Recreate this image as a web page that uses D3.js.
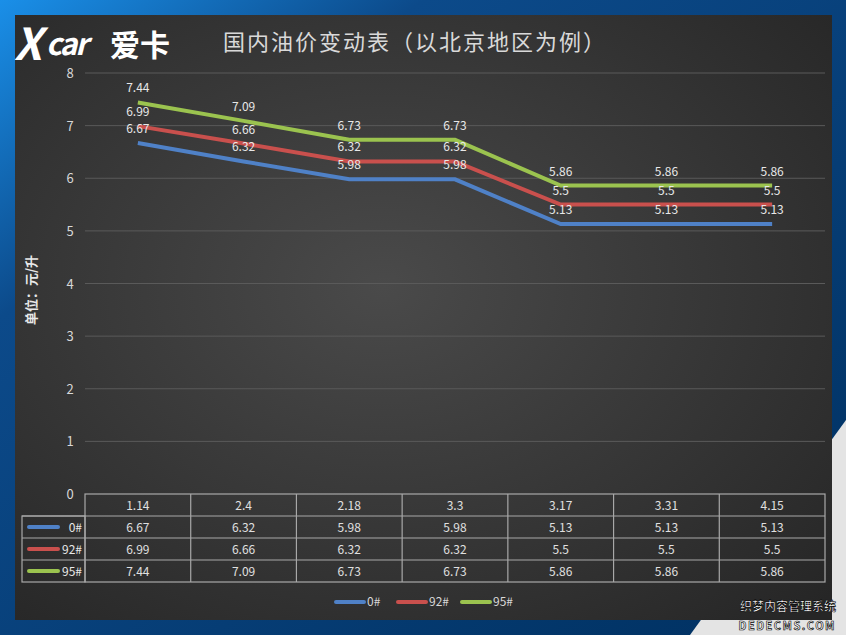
<!DOCTYPE html>
<html><head><meta charset="utf-8">
<script src="https://cdn.jsdelivr.net/npm/d3@7"></script>
<style>body{margin:0;background:#003a70}text{font-family:"Noto Sans CJK SC","Open Sans",sans-serif}</style>
</head><body><svg id="c" width="846" height="635"></svg>
<script>
var dates = ["1.14","2.4","2.18","3.3","3.17","3.31","4.15"];
var names = ["0#","92#","95#"];
var colors = ["#4f81c7","#c9504d","#9bc34f"];
var diesel = [6.67,6.32,5.98,5.98,5.13,5.13,5.13];
var p92 = [6.99,6.66,6.32,6.32,5.5,5.5,5.5];
var p95 = [7.44,7.09,6.73,6.73,5.86,5.86,5.86];
var yTicks = [0,1,2,3,4,5,6,7,8];

var series = [diesel,p92,p95];
var svg = d3.select("#c");
var defs = svg.append("defs");
var bg = defs.append("linearGradient").attr("id","bg").attr("x1",0).attr("y1",0).attr("x2",1).attr("y2",1);
bg.append("stop").attr("offset","0").attr("stop-color","#1a8fe8");
bg.append("stop").attr("offset","0.25").attr("stop-color","#0c4a8a");
bg.append("stop").attr("offset","1").attr("stop-color","#003060");
var pg = defs.append("radialGradient").attr("id","pg").attr("cx","45%").attr("cy","45%").attr("r","75%");
pg.append("stop").attr("offset","0").attr("stop-color","#4a4a4a");
pg.append("stop").attr("offset","1").attr("stop-color","#262626");

svg.append("rect").attr("width",846).attr("height",635).attr("fill","url(#bg)");
svg.append("path").attr("d","M846,420 L846,635 L690,635 Z").attr("fill","#e4e4e4");
svg.append("rect").attr("x",15).attr("y",15).attr("width",817).attr("height",605).attr("fill","url(#pg)");

var x0 = 85;
var x = d3.scaleBand().domain(dates).range([x0,825]);
var y = d3.scaleLinear().domain([0,8]).range([494,73]);

svg.append("g").selectAll("line").data(yTicks.slice(1)).join("line")
  .attr("x1",x0).attr("x2",825).attr("y1",d=>y(d)).attr("y2",d=>y(d))
  .attr("stroke","#5a5a5a").attr("stroke-width",1);
svg.append("g").selectAll("text").data(yTicks).join("text")
  .attr("x",70).attr("y",d=>y(d)+5).attr("text-anchor","middle")
  .attr("fill","#d8d8d8").attr("font-size",13).text(d=>d);

svg.append("text").attr("transform","translate(36,290) rotate(-90)").attr("text-anchor","middle")
  .attr("fill","#e8e8e8").attr("font-size",13).attr("font-weight","bold").text("单位：元/升");

svg.append("text").attr("x",415).attr("y",50).attr("text-anchor","middle")
  .attr("fill","#d9d9d9").attr("font-size",22).attr("letter-spacing",2).text("国内油价变动表（以北京地区为例）");

// logo
svg.append("text").attr("x",14).attr("y",60).attr("fill","#fff").attr("font-size",44)
  .attr("font-weight","bold").attr("font-style","italic").attr("font-family","DejaVu Sans").text("X");
svg.append("text").attr("x",46).attr("y",55).attr("fill","#fff").attr("font-size",30)
  .attr("font-weight","bold").attr("font-style","italic").attr("letter-spacing",-2).attr("font-family","DejaVu Sans").text("car");
svg.append("text").attr("x",110).attr("y",56).attr("fill","#fff").attr("font-size",30)
  .attr("font-weight","bold").text("爱卡");

var line = d3.line().x((d,i)=>x(dates[i])+x.bandwidth()/2).y(d=>y(d));
series.forEach(function(s,k){
  svg.append("path").attr("d",line(s)).attr("fill","none")
    .attr("stroke",colors[k]).attr("stroke-width",4);
});
series.forEach(function(s,k){
  svg.append("g").selectAll("text").data(s).join("text")
    .attr("x",(d,i)=>x(dates[i])+x.bandwidth()/2).attr("y",d=>y(d)-10)
    .attr("text-anchor","middle").attr("fill","#e8e8e8").attr("font-size",12).text(d=>d);
});

// table
var rowH = 22, tTop = 494;
var tg = svg.append("g").attr("stroke","#a8a8a8").attr("stroke-width",1.2).attr("fill","none");
tg.append("rect").attr("x",x0).attr("y",tTop).attr("width",825-x0).attr("height",rowH*4);
tg.append("rect").attr("x",22).attr("y",tTop+rowH).attr("width",x0-22).attr("height",rowH*3);
for (var r=1;r<4;r++) tg.append("line").attr("x1",22).attr("x2",825).attr("y1",tTop+rowH*r).attr("y2",tTop+rowH*r);
dates.forEach(function(d,i){ if(i>0) tg.append("line").attr("x1",x(d)).attr("x2",x(d)).attr("y1",tTop).attr("y2",tTop+rowH*4); });
svg.append("g").selectAll("text").data(dates).join("text")
  .attr("x",d=>x(d)+x.bandwidth()/2).attr("y",tTop+16).attr("text-anchor","middle")
  .attr("fill","#e0e0e0").attr("font-size",12).text(d=>d);
series.forEach(function(s,k){
  var ry = tTop+rowH*(k+1);
  svg.append("g").selectAll("text").data(s).join("text")
    .attr("x",(d,i)=>x(dates[i])+x.bandwidth()/2).attr("y",ry+16).attr("text-anchor","middle")
    .attr("fill","#e0e0e0").attr("font-size",12).text(d=>d);
  svg.append("line").attr("x1",29).attr("x2",58).attr("y1",ry+11).attr("y2",ry+11)
    .attr("stroke",colors[k]).attr("stroke-width",4).attr("stroke-linecap","round");
  svg.append("text").attr("x",82).attr("y",ry+16).attr("text-anchor","end")
    .attr("fill","#e8e8e8").attr("font-size",12).text(names[k]);
});

// legend
var lx = [336,398,462];
names.forEach(function(n,k){
  svg.append("line").attr("x1",lx[k]).attr("x2",lx[k]+28).attr("y1",602).attr("y2",602)
    .attr("stroke",colors[k]).attr("stroke-width",4).attr("stroke-linecap","round");
  svg.append("text").attr("x",lx[k]+31).attr("y",606).attr("fill","#d8d8d8").attr("font-size",12).text(n);
});

// watermark
svg.append("text").attr("x",836).attr("y",611).attr("text-anchor","end").attr("font-size",12)
  .attr("font-weight","bold").attr("fill","#fff").attr("stroke","#000").attr("stroke-width",0.6).text("织梦内容管理系统");
svg.append("text").attr("x",836).attr("y",630).attr("text-anchor","end").attr("font-size",11)
  .attr("font-family","DejaVu Sans Mono").attr("font-weight","bold").attr("letter-spacing",1.5)
  .attr("fill","#fff").attr("stroke","#000").attr("stroke-width",0.6).text("DEDECMS.COM");
</script></body></html>
